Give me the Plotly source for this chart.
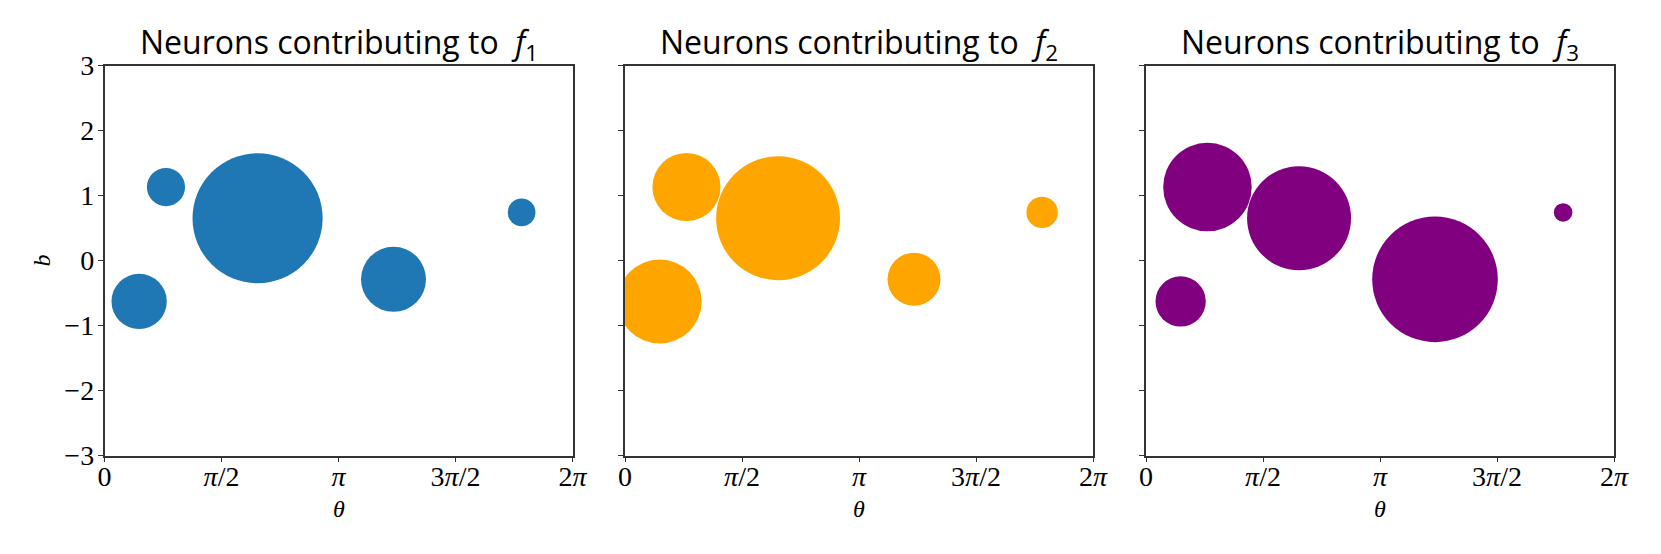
import numpy as np
import plotly.graph_objects as go

# Neuron parameters (same neurons in each panel)
theta = [0.465, 0.825, 2.055, 3.880, 5.600]
bias = [-0.630, 1.130, 0.650, -0.290, 0.740]

# Contribution magnitudes (rendered as marker diameter)
contrib_f1 = [55.3, 38.2, 130.1, 65.0, 27.7]
contrib_f2 = [84.0, 68.1, 123.9, 53.0, 31.4]
contrib_f3 = [50.3, 88.5, 104.0, 125.6, 18.5]

panel_names = ["1", "2", "3"]
panel_colors = ["#1f77b4", "#FFA500", "#800080"]

x_tick_vals = [0, np.pi / 2, np.pi, 3 * np.pi / 2, 2 * np.pi]
x_tick_text = ["0", "<i>π</i>/2", "<i>π</i>", "3<i>π</i>/2", "2<i>π</i>"]
y_tick_vals = [-3, -2, -1, 0, 1, 2, 3]
y_tick_text = ["−3", "−2", "−1", "0", "1", "2", "3"]

# page has an 8px body margin; figure is sized to fit the window exactly
OFF = 8
WIN_W, WIN_H = 1661, 554
W, H = WIN_W - OFF, WIN_H - OFF


def px_x(p):
    return (p - OFF) / W


def px_y(p):
    return 1 - (p - OFF) / H


x_px = [(104.5, 572.5), (625, 1093), (1146, 1614)]
y_px = (65.5, 455.5)

fig = go.Figure()
serif = "Liberation Serif"
sans = "Open Sans"

contribs = [contrib_f1, contrib_f2, contrib_f3]
layout = dict()
annotations = []
for i in range(3):
    sfx = "" if i == 0 else str(i + 1)
    fig.add_trace(go.Scatter(
        x=theta, y=bias, mode="markers",
        marker=dict(size=contribs[i], sizemode="diameter", color=panel_colors[i],
                    line=dict(width=0), opacity=1),
        xaxis="x" + sfx, yaxis="y" + sfx, showlegend=False, cliponaxis=True,
    ))
    x0, x1 = x_px[i]
    dom_x = [px_x(x0), px_x(x1)]
    dom_y = [px_y(y_px[1]), px_y(y_px[0])]
    axis_common = dict(showgrid=False, zeroline=False, showline=True, mirror=True,
                       linecolor="#333333", linewidth=1.5, ticks="outside", ticklen=5,
                       tickwidth=1.2, tickcolor="#333333", automargin=False,
                       tickfont=dict(family=serif, size=28, color="black"))
    layout["xaxis" + sfx] = dict(axis_common, domain=dom_x, range=[0, 2 * np.pi],
                                 tickmode="array", tickvals=x_tick_vals, ticktext=x_tick_text,
                                 anchor="y" + sfx, fixedrange=True, ticklabelstandoff=-10)
    layout["yaxis" + sfx] = dict(axis_common, domain=dom_y, range=[-3, 3],
                                 tickmode="array", tickvals=y_tick_vals,
                                 ticktext=y_tick_text if i == 0 else [""] * len(y_tick_vals),
                                 anchor="x" + sfx, fixedrange=True, ticklabelstandoff=-2)
    cx = px_x((x0 + x1) / 2)
    annotations.append(dict(
        text="Neurons contributing to  <i>f</i><sub>" + panel_names[i] + "</sub>",
        x=cx, y=px_y(70), xref="paper", yref="paper", xanchor="center", yanchor="bottom",
        showarrow=False, font=dict(family=sans, size=32, color="black")))
    annotations.append(dict(
        text="<i>θ</i>", x=cx, y=px_y(509), xref="paper", yref="paper",
        xanchor="center", yanchor="middle", showarrow=False,
        font=dict(family=serif, size=24, color="black")))

annotations.append(dict(
    text="<i>b</i>", x=px_x(41), y=px_y(260.5), xref="paper", yref="paper",
    xanchor="center", yanchor="middle", showarrow=False, textangle=-90,
    font=dict(family=serif, size=24, color="black")))

fig.update_layout(
    template="none",
    width=W, height=H, autosize=False,
    margin=dict(l=0, r=0, t=0, b=0, pad=0),
    paper_bgcolor="white", plot_bgcolor="white",
    annotations=annotations,
    **layout,
)

fig.write_html("out.html")
